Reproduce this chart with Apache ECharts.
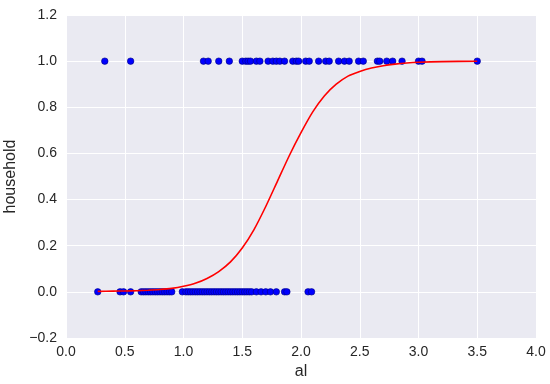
<!DOCTYPE html>
<html>
<head>
<meta charset="utf-8">
<script src="https://cdn.jsdelivr.net/npm/echarts@6/dist/echarts.min.js"></script>
<style>
html,body{margin:0;padding:0;background:#fff;}
#chart{width:550px;height:384px;}
</style>
</head>
<body>
<div id="chart"></div>
<script>
// Observed points with household = 1
var xOnes = [0.33, 0.55, 1.17, 1.21, 1.30, 1.39, 1.50, 1.53, 1.55, 1.57, 1.62, 1.65,
  1.72, 1.76, 1.79, 1.82, 1.86, 1.93, 1.96, 1.98, 2.04, 2.07, 2.15, 2.21, 2.24,
  2.32, 2.37, 2.41, 2.49, 2.53, 2.65, 2.67, 2.73, 2.78, 2.86, 3.00, 3.03, 3.50];
// Observed points with household = 0
var xZeros = [0.27, 0.46, 0.49, 0.55, 0.64, 0.66, 0.68, 0.70, 0.72, 0.74, 0.76, 0.78,
  0.80, 0.82, 0.84, 0.86, 0.88, 0.90, 0.99, 1.02, 1.04, 1.06, 1.08, 1.10, 1.12,
  1.14, 1.16, 1.18, 1.20, 1.22, 1.24, 1.26, 1.28, 1.30, 1.32, 1.34, 1.36, 1.38,
  1.40, 1.42, 1.44, 1.46, 1.48, 1.50, 1.52, 1.54, 1.56, 1.58, 1.62, 1.66, 1.70,
  1.74, 1.79, 1.86, 1.88, 2.06, 2.09];
// Fitted logistic curve
var curveX = [0.27, 0.4, 0.5, 0.6, 0.7, 0.8, 0.9, 1.0, 1.1, 1.2, 1.3, 1.4, 1.5, 1.6,
  1.7, 1.8, 1.9, 2.0, 2.1, 2.2, 2.3, 2.4, 2.5, 2.6, 2.7, 2.8, 2.9, 3.0, 3.2, 3.5];
var curveY = [0.002, 0.003, 0.004, 0.005, 0.007, 0.010, 0.015, 0.024, 0.037, 0.058,
  0.088, 0.13, 0.19, 0.27, 0.37, 0.48, 0.59, 0.69, 0.78, 0.85, 0.90, 0.935, 0.955,
  0.97, 0.98, 0.987, 0.992, 0.995, 0.998, 0.9995];
var xTicks = [0, 0.5, 1.0, 1.5, 2.0, 2.5, 3.0, 3.5, 4.0];
var yTicks = [-0.2, 0, 0.2, 0.4, 0.6, 0.8, 1.0, 1.2];

var pts = [];
xOnes.forEach(function (x) { pts.push([x, 1]); });
xZeros.forEach(function (x) { pts.push([x, 0]); });
var curve = curveX.map(function (x, i) { return [x, curveY[i]]; });

var fontFam = '"Liberation Sans", Arial, sans-serif';
var chart = echarts.init(document.getElementById('chart'), null, {renderer: 'canvas'});
chart.setOption({
  animation: false,
  grid: {left: 66, right: 14, top: 15, bottom: 46, show: true,
    outerBoundsMode: 'none', containLabel: false,
    backgroundColor: '#EAEAF2', borderWidth: 0},
  xAxis: {
    type: 'value', min: xTicks[0], max: xTicks[xTicks.length - 1], interval: 0.5,
    name: 'al', nameLocation: 'middle', nameGap: 25,
    nameTextStyle: {fontSize: 16, color: '#262626', fontFamily: fontFam},
    axisLine: {show: false}, axisTick: {show: false},
    axisLabel: {fontSize: 14, color: '#262626', fontFamily: fontFam, margin: 7,
      formatter: function (v) { return v.toFixed(1); }},
    splitLine: {show: true, lineStyle: {color: '#ffffff', width: 1}}
  },
  yAxis: {
    type: 'value', min: yTicks[0], max: yTicks[yTicks.length - 1], interval: 0.2,
    name: 'household', nameLocation: 'middle', nameGap: 45, nameRotate: 90,
    nameTextStyle: {fontSize: 16, color: '#262626', fontFamily: fontFam},
    axisLine: {show: false}, axisTick: {show: false},
    axisLabel: {fontSize: 14, color: '#262626', fontFamily: fontFam, margin: 9,
      formatter: function (v) { return v.toFixed(1).replace('-', '\u2212'); }},
    splitLine: {show: true, lineStyle: {color: '#ffffff', width: 1}}
  },
  series: [
    {type: 'scatter', data: pts, symbol: 'circle', symbolSize: 6.5, z: 2,
      itemStyle: {color: '#0000ff', borderColor: '#000080', borderWidth: 0.6, opacity: 1}},
    {type: 'line', data: curve, showSymbol: false, smooth: 0.25, z: 3,
      lineStyle: {color: '#ff0000', width: 1.6}}
  ]
});
</script>
</body>
</html>
